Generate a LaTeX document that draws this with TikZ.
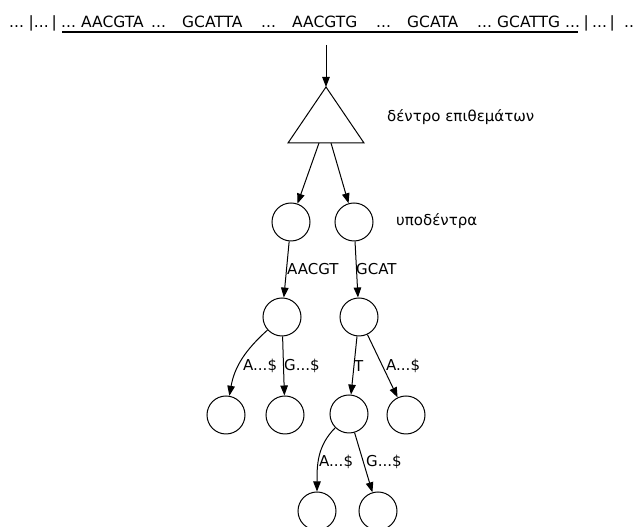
\documentclass[tikz,border=0pt]{standalone}
\usepackage{fontspec}
\setmainfont{DejaVu Sans}
\usetikzlibrary{arrows.meta}
\begin{document}
\begin{tikzpicture}[x=1pt,y=1pt,
  txt/.style={inner sep=0pt, font=\fontsize{15}{18}\selectfont},
  seq/.style={inner sep=0pt, anchor=base west, font=\fontsize{15.5}{18}\selectfont},
  lbl/.style={txt, anchor=west},
  sub/.style={circle, draw, line width=1pt, minimum size=38pt, inner sep=0pt},
  arr/.style={draw, line width=1pt, -{Triangle[length=10pt,width=7.5pt]}},
]
\useasboundingbox (0,0) rectangle (633,527);

% the text string with its marked part
\node[seq] (s1)  at (9,499)   {...};
\node[seq] (s2)  at (28.5,499) {|...};
\node[seq] (s3)  at (51.5,499) {|};
\node[seq] (s4)  at (61,499)  {...};
\node[seq] (s5)  at (81,499)  {AACGTA};
\node[seq] (s6)  at (151,499) {...};
\node[seq] (s7)  at (182,499) {GCATTA};
\node[seq] (s8)  at (261,499) {...};
\node[seq] (s9)  at (292,499) {AACGTG};
\node[seq] (s10) at (376,499) {...};
\node[seq] (s11) at (407,499) {GCATA};
\node[seq] (s12) at (477,499) {...};
\node[seq] (s13) at (497,499) {GCATTG};
\node[seq] (s14) at (565,499) {...};
\node[seq] (s15) at (583.5,499) {|};
\node[seq] (s16) at (592,499) {...};
\node[seq] (s17) at (609.5,499) {|};
\node[seq] (s18) at (624,499) {..};
\coordinate (ulA) at (62,495);
\coordinate (ulB) at (578,495);
\draw[line width=2.2pt] (ulA) -- (ulB);

% suffix tree
\coordinate (src) at (326,482);
\coordinate (apex) at (326,440);
\coordinate (bl) at (288,384);
\coordinate (br) at (364,384);
\coordinate (tl) at (319,384);
\coordinate (tr) at (331,384);
\draw[arr] (src) -- (apex);
\draw[line width=1pt, line join=miter] (apex) -- (bl) -- (br) -- cycle;
\node[lbl] (tname) at (387,410) {δέντρο επιθεμάτων};

% subtrees
\node[sub] (c1) at (291,305) {};
\node[sub] (c2) at (354,305) {};
\node[lbl] (sname) at (396,306) {υποδέντρα};
\draw[arr] (tl) -- (c1);
\draw[arr] (tr) -- (c2);

\node[sub] (c3) at (282,210) {};
\node[sub] (c4) at (359,210) {};
\draw[arr] (c1) -- (c3);
\draw[arr] (c2) -- (c4);
\node[lbl] (e1) at (287,258) {AACGT};
\node[lbl] (e2) at (356,258) {GCAT};

\node[sub] (c5) at (226,112) {};
\node[sub] (c6) at (285,112) {};
\node[sub] (c7) at (349,113) {};
\node[sub] (c8) at (406,112) {};
\draw[arr] (c3) to[out=222,in=80] (c5);
\draw[arr] (c3) -- (c6);
\draw[arr] (c4) -- (c7);
\draw[arr] (c4) -- (c8);
\node[lbl] (e3) at (243,161) {A...\$};
\node[lbl] (e4) at (284,161) {G...\$};
\node[lbl] (e5) at (354,161) {T};
\node[lbl] (e6) at (386,161) {A...\$};

\node[sub] (c9)  at (317,16) {};
\node[sub] (c10) at (378,16) {};
\draw[arr] (c7) to[out=225,in=90] (c9);
\draw[arr] (c7) -- (c10);
\node[lbl] (e7) at (319,65) {A...\$};
\node[lbl] (e8) at (366,65) {G...\$};
\end{tikzpicture}
\end{document}
